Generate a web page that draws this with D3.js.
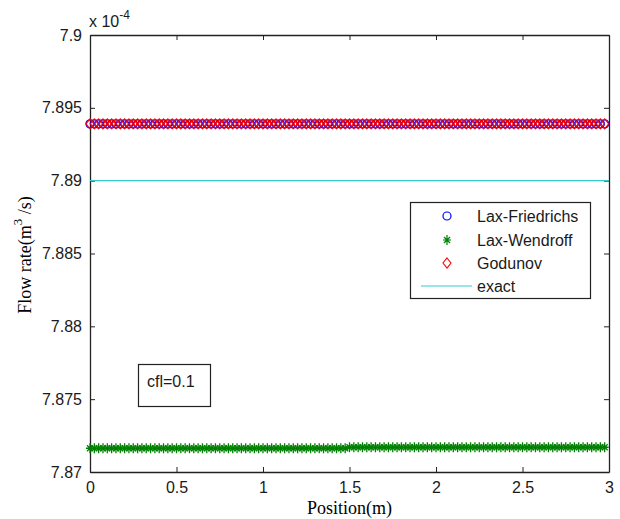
<!DOCTYPE html>
<html>
<head>
<meta charset="utf-8">
<script src="https://cdnjs.cloudflare.com/ajax/libs/d3/7.8.5/d3.min.js"></script>
<style>
  body { margin: 0; background: #fff; }
  svg { display: block; }
</style>
</head>
<body>
<div id="chart"></div>
<script>
// chart data (flow rate in units of 1e-4 m^3/s)
const positions = [
  0, 0.025, 0.05, 0.075, 0.1, 0.125, 0.15, 0.175, 0.2, 0.225,
  0.25, 0.275, 0.3, 0.325, 0.35, 0.375, 0.4, 0.425, 0.45, 0.475,
  0.5, 0.525, 0.55, 0.575, 0.6, 0.625, 0.65, 0.675, 0.7, 0.725,
  0.75, 0.775, 0.8, 0.825, 0.85, 0.875, 0.9, 0.925, 0.95, 0.975,
  1, 1.025, 1.05, 1.075, 1.1, 1.125, 1.15, 1.175, 1.2, 1.225,
  1.25, 1.275, 1.3, 1.325, 1.35, 1.375, 1.4, 1.425, 1.45, 1.475,
  1.5, 1.525, 1.55, 1.575, 1.6, 1.625, 1.65, 1.675, 1.7, 1.725,
  1.75, 1.775, 1.8, 1.825, 1.85, 1.875, 1.9, 1.925, 1.95, 1.975,
  2, 2.025, 2.05, 2.075, 2.1, 2.125, 2.15, 2.175, 2.2, 2.225,
  2.25, 2.275, 2.3, 2.325, 2.35, 2.375, 2.4, 2.425, 2.45, 2.475,
  2.5, 2.525, 2.55, 2.575, 2.6, 2.625, 2.65, 2.675, 2.7, 2.725,
  2.75, 2.775, 2.8, 2.825, 2.85, 2.875, 2.9, 2.925, 2.95, 2.975
];

const laxFriedrichs = [
  7.8939, 7.8939, 7.8939, 7.8939, 7.8939, 7.8939, 7.8939, 7.8939, 7.8939, 7.8939,
  7.8939, 7.8939, 7.8939, 7.8939, 7.8939, 7.8939, 7.8939, 7.8939, 7.8939, 7.8939,
  7.8939, 7.8939, 7.8939, 7.8939, 7.8939, 7.8939, 7.8939, 7.8939, 7.8939, 7.8939,
  7.8939, 7.8939, 7.8939, 7.8939, 7.8939, 7.8939, 7.8939, 7.8939, 7.8939, 7.8939,
  7.8939, 7.8939, 7.8939, 7.8939, 7.8939, 7.8939, 7.8939, 7.8939, 7.8939, 7.8939,
  7.8939, 7.8939, 7.8939, 7.8939, 7.8939, 7.8939, 7.8939, 7.8939, 7.8939, 7.8939,
  7.8939, 7.8939, 7.8939, 7.8939, 7.8939, 7.8939, 7.8939, 7.8939, 7.8939, 7.8939,
  7.8939, 7.8939, 7.8939, 7.8939, 7.8939, 7.8939, 7.8939, 7.8939, 7.8939, 7.8939,
  7.8939, 7.8939, 7.8939, 7.8939, 7.8939, 7.8939, 7.8939, 7.8939, 7.8939, 7.8939,
  7.8939, 7.8939, 7.8939, 7.8939, 7.8939, 7.8939, 7.8939, 7.8939, 7.8939, 7.8939,
  7.8939, 7.8939, 7.8939, 7.8939, 7.8939, 7.8939, 7.8939, 7.8939, 7.8939, 7.8939,
  7.8939, 7.8939, 7.8939, 7.8939, 7.8939, 7.8939, 7.8939, 7.8939, 7.8939, 7.8939
];

const laxWendroff = [
  7.87163, 7.87163, 7.87163, 7.87163, 7.87163, 7.87163, 7.87163, 7.87163, 7.87163, 7.87163,
  7.87163, 7.87163, 7.87163, 7.87163, 7.87163, 7.87163, 7.87163, 7.87163, 7.87163, 7.87163,
  7.87163, 7.87163, 7.87163, 7.87163, 7.87163, 7.87163, 7.87163, 7.87163, 7.87163, 7.87163,
  7.87163, 7.87163, 7.87163, 7.87163, 7.87163, 7.87163, 7.87163, 7.87163, 7.87163, 7.87163,
  7.87163, 7.87163, 7.87163, 7.87163, 7.87163, 7.87163, 7.87163, 7.87163, 7.87163, 7.87163,
  7.87163, 7.87163, 7.87163, 7.87163, 7.87163, 7.87163, 7.87163, 7.87163, 7.87163, 7.87163,
  7.8717, 7.8717, 7.8717, 7.8717, 7.8717, 7.8717, 7.8717, 7.8717, 7.8717, 7.8717,
  7.8717, 7.8717, 7.8717, 7.8717, 7.8717, 7.8717, 7.8717, 7.8717, 7.8717, 7.8717,
  7.8717, 7.8717, 7.8717, 7.8717, 7.8717, 7.8717, 7.8717, 7.8717, 7.8717, 7.8717,
  7.8717, 7.8717, 7.8717, 7.8717, 7.8717, 7.8717, 7.8717, 7.8717, 7.8717, 7.8717,
  7.8717, 7.8717, 7.8717, 7.8717, 7.8717, 7.8717, 7.8717, 7.8717, 7.8717, 7.8717,
  7.8717, 7.8717, 7.8717, 7.8717, 7.8717, 7.8717, 7.8717, 7.8717, 7.8717, 7.8717
];

const godunov = laxFriedrichs.slice(); // same values

const exactPositions = [0, 3];
const exactValues = [7.89, 7.89];

const xTicks = [0, 0.5, 1, 1.5, 2, 2.5, 3];
const xTickLabels = ["0", "0.5", "1", "1.5", "2", "2.5", "3"];
const yTicks = [7.87, 7.875, 7.88, 7.885, 7.89, 7.895, 7.9];
const yTickLabels = ["7.87", "7.875", "7.88", "7.885", "7.89", "7.895", "7.9"];

const legendLabels = ["Lax-Friedrichs", "Lax-Wendroff", "Godunov", "exact"];

// layout
const width = 620;
const height = 519;
const margin = { top: 35, right: 11, bottom: 47, left: 90 };
const innerW = width - margin.left - margin.right;
const innerH = height - margin.top - margin.bottom;

const sansFont = "'Liberation Sans', Arial, sans-serif";
const serifFont = "'Liberation Serif', 'Times New Roman', serif";

const svg = d3.select("#chart")
    .append("svg")
    .attr("width", width)
    .attr("height", height);

const x = d3.scaleLinear().domain([0, 3]).range([margin.left, margin.left + innerW]);
const y = d3.scaleLinear().domain([7.87, 7.9]).range([margin.top + innerH, margin.top]);

// clip for marks
svg.append("clipPath")
    .attr("id", "plotClip")
    .append("rect")
    .attr("x", margin.left - 6)
    .attr("y", margin.top)
    .attr("width", innerW + 12)
    .attr("height", innerH);

// axes
const tickLen = 5;
const bottomAxis = d3.axisBottom(x).tickValues(xTicks)
    .tickFormat((d, i) => xTickLabels[i]).tickSizeInner(-tickLen).tickSizeOuter(0).tickPadding(10);
const topAxis = d3.axisTop(x).tickValues(xTicks)
    .tickFormat("").tickSizeInner(-tickLen).tickSizeOuter(0);
const leftAxis = d3.axisLeft(y).tickValues(yTicks)
    .tickFormat((d, i) => yTickLabels[i]).tickSizeInner(-tickLen).tickSizeOuter(0).tickPadding(8);
const rightAxis = d3.axisRight(y).tickValues(yTicks)
    .tickFormat("").tickSizeInner(-tickLen).tickSizeOuter(0);

function styleAxis(g) {
    g.select(".domain").attr("stroke", "#222").attr("stroke-width", 1.3);
    g.selectAll(".tick line").attr("stroke", "#222");
    g.selectAll(".tick text")
        .attr("fill", "#1a1a1a")
        .style("font-family", sansFont)
        .style("font-size", "16px");
}

svg.append("g").attr("transform", `translate(0,${margin.top + innerH})`).call(bottomAxis).call(styleAxis);
svg.append("g").attr("transform", `translate(0,${margin.top})`).call(topAxis).call(styleAxis);
svg.append("g").attr("transform", `translate(${margin.left},0)`).call(leftAxis).call(styleAxis);
svg.append("g").attr("transform", `translate(${margin.left + innerW},0)`).call(rightAxis).call(styleAxis);

// marks
const plot = svg.append("g").attr("clip-path", "url(#plotClip)");

const starPath = "M-4,0H4M0,-5V5M-3,-3L3,3M-3,3L3,-3";
const diamondPath = "M0,-5L4,0L0,5L-4,0Z";

plot.append("g")
    .selectAll("circle")
    .data(positions)
    .enter().append("circle")
    .attr("cx", (d) => x(d))
    .attr("cy", (d, i) => y(laxFriedrichs[i]))
    .attr("r", 4)
    .attr("fill", "none")
    .attr("stroke", "#0000ff")
    .attr("stroke-width", 1.3);

plot.append("g")
    .selectAll("path")
    .data(positions)
    .enter().append("path")
    .attr("transform", (d, i) => `translate(${x(d)},${y(laxWendroff[i])})`)
    .attr("d", starPath)
    .attr("fill", "none")
    .attr("stroke", "#008000")
    .attr("stroke-width", 1.3);

plot.append("g")
    .selectAll("path")
    .data(positions)
    .enter().append("path")
    .attr("transform", (d, i) => `translate(${x(d)},${y(godunov[i])})`)
    .attr("d", diamondPath)
    .attr("fill", "none")
    .attr("stroke", "#ff0000")
    .attr("stroke-width", 1.1);

const line = d3.line().x((d) => x(d[0])).y((d) => y(d[1]));
plot.append("path")
    .datum(exactPositions.map((p, i) => [p, exactValues[i]]))
    .attr("d", line)
    .attr("fill", "none")
    .attr("stroke", "#33cccc")
    .attr("stroke-width", 1.2);

// exponent label
const expText = svg.append("text")
    .attr("x", 89)
    .attr("y", 27)
    .attr("fill", "#1a1a1a")
    .style("font-family", sansFont)
    .style("font-size", "16px");
expText.append("tspan").text("x 10");
expText.append("tspan").attr("dy", -8).style("font-size", "12px").text("-4");

// axis titles
svg.append("text")
    .attr("x", margin.left + innerW / 2)
    .attr("y", 514)
    .attr("text-anchor", "middle")
    .attr("fill", "#000")
    .style("font-family", serifFont)
    .style("font-size", "18px")
    .text("Position(m)");

const yTitle = svg.append("text")
    .attr("transform", "translate(31,255) rotate(-90)")
    .attr("text-anchor", "middle")
    .attr("fill", "#000")
    .style("font-family", serifFont)
    .style("font-size", "18px");
yTitle.append("tspan").text("Flow rate(m");
yTitle.append("tspan").attr("dy", -9).style("font-size", "13px").text("3");
yTitle.append("tspan").attr("dy", 9).text(" /s)");

// legend
const legend = svg.append("g");
legend.append("rect")
    .attr("x", 410.5)
    .attr("y", 202.5)
    .attr("width", 180)
    .attr("height", 96)
    .attr("fill", "#fff")
    .attr("stroke", "#222")
    .attr("stroke-width", 1.2);

const legendY = [216, 240, 263, 286];
const legendMarkerX = 447;

legend.append("circle")
    .attr("cx", legendMarkerX).attr("cy", legendY[0]).attr("r", 4)
    .attr("fill", "none").attr("stroke", "#0000ff").attr("stroke-width", 1.2);
legend.append("path")
    .attr("transform", `translate(${legendMarkerX},${legendY[1]})`)
    .attr("d", starPath).attr("fill", "none").attr("stroke", "#008000").attr("stroke-width", 1.2);
legend.append("path")
    .attr("transform", `translate(${legendMarkerX},${legendY[2]})`)
    .attr("d", diamondPath).attr("fill", "none").attr("stroke", "#ff0000").attr("stroke-width", 1.1);
legend.append("line")
    .attr("x1", 421).attr("x2", 472)
    .attr("y1", legendY[3]).attr("y2", legendY[3])
    .attr("stroke", "#33cccc")
    .attr("stroke-width", 1.2);

legend.selectAll("text.lbl")
    .data(legendLabels)
    .enter().append("text")
    .attr("class", "lbl")
    .attr("x", 477)
    .attr("y", (d, i) => legendY[i] + 6)
    .attr("fill", "#1a1a1a")
    .style("font-family", sansFont)
    .style("font-size", "16px")
    .text((d) => d);

// cfl annotation
svg.append("rect")
    .attr("x", 138.5)
    .attr("y", 364.5)
    .attr("width", 72)
    .attr("height", 42)
    .attr("fill", "#fff")
    .attr("stroke", "#222")
    .attr("stroke-width", 1.2);
svg.append("text")
    .attr("x", 147)
    .attr("y", 387)
    .attr("fill", "#1a1a1a")
    .style("font-family", sansFont)
    .style("font-size", "16px")
    .text("cfl=0.1");
</script>
</body>
</html>
